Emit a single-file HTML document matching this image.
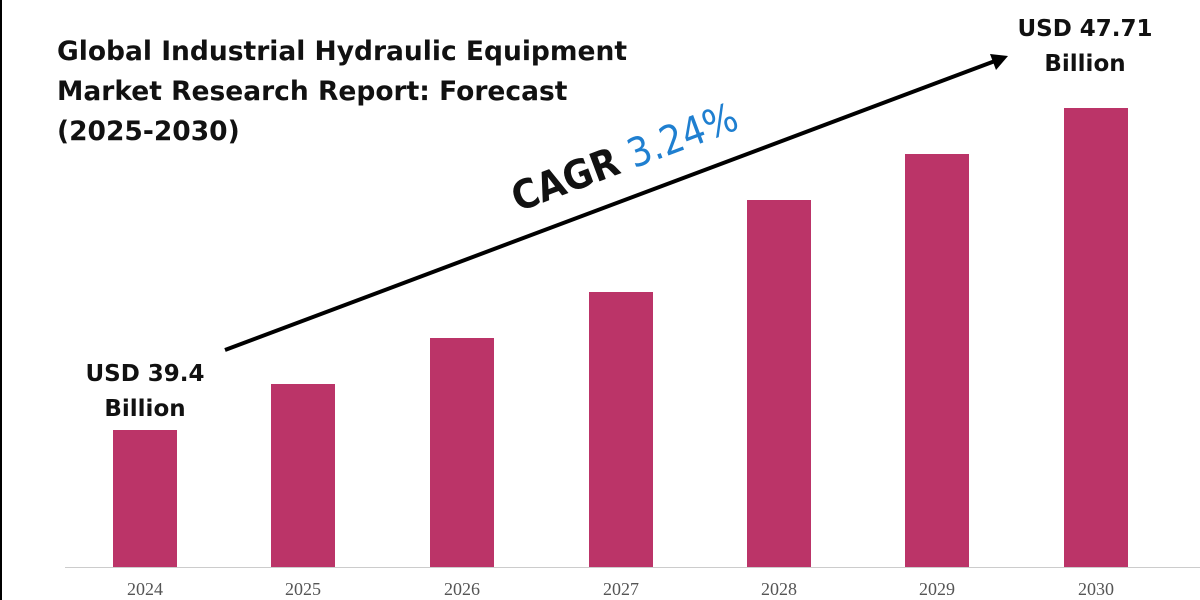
<!DOCTYPE html>
<html><head><style>
body{margin:0;width:1200px;height:600px;background:#fff;position:relative;overflow:hidden;font-family:"DejaVu Sans","Liberation Sans",sans-serif}
.bar{position:absolute;background:#bb3468;width:64px;bottom:33px}
.yr{position:absolute;top:579px;width:100px;text-align:center;font-family:"Liberation Serif",serif;font-size:18px;color:#555}
.t{position:absolute;font-weight:bold;color:#111}
</style></head><body>
<div style="position:absolute;left:0;top:0;width:2px;height:600px;background:#000"></div>
<div class="t" style="left:57px;top:32px;font-size:26.5px;line-height:40px">Global Industrial Hydraulic Equipment<br>Market Research Report: Forecast<br>(2025-2030)</div>
<div style="position:absolute;left:65px;top:567px;width:1135px;height:1px;background:#ccc"></div>
<div class="bar" style="left:113px;top:430px"></div>
<div class="bar" style="left:271px;top:384px"></div>
<div class="bar" style="left:430px;top:338px"></div>
<div class="bar" style="left:589px;top:292px"></div>
<div class="bar" style="left:747px;top:200px"></div>
<div class="bar" style="left:905px;top:154px"></div>
<div class="bar" style="left:1064px;top:108px"></div>
<div class="yr" style="left:95px">2024</div>
<div class="yr" style="left:253px">2025</div>
<div class="yr" style="left:412px">2026</div>
<div class="yr" style="left:571px">2027</div>
<div class="yr" style="left:729px">2028</div>
<div class="yr" style="left:887px">2029</div>
<div class="yr" style="left:1046px">2030</div>
<div class="t" style="left:60px;top:357px;width:170px;text-align:center;font-size:23px;line-height:35px">USD 39.4<br>Billion</div>
<div class="t" style="left:1000px;top:12px;width:170px;text-align:center;font-size:23px;line-height:35px">USD 47.71<br>Billion</div>
<svg style="position:absolute;left:0;top:0" width="1200" height="600">
<line x1="225" y1="350" x2="995" y2="61" stroke="#000" stroke-width="4"/>
<polygon points="1008,56 990,54 996,70" fill="#000"/>
<text x="0" y="0" transform="translate(518,212) rotate(-20.6)" font-family="DejaVu Sans,sans-serif" font-size="40" font-weight="bold" fill="#111" textLength="238" lengthAdjust="spacingAndGlyphs">CAGR <tspan fill="#1f7fd0" font-weight="normal">3.24%</tspan></text>
</svg>
</body></html>
